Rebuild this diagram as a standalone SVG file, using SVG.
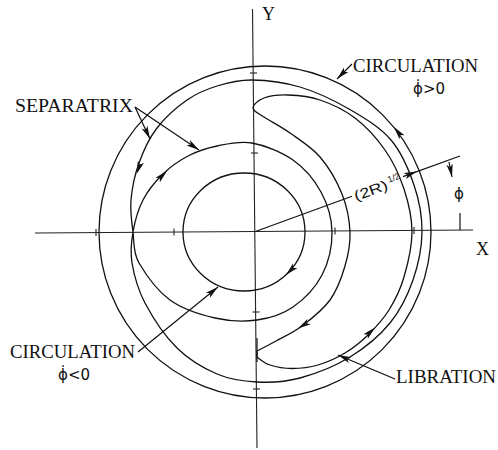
<svg xmlns="http://www.w3.org/2000/svg" width="498" height="450" viewBox="0 0 498 450">
<defs>
<path id="ah" d="M0,0 L-13,-3.2 L-10,0 L-13,3.2 Z"/>
</defs>
<style>
.c{fill:none;stroke:#111;stroke-width:1.3}
.ax{fill:none;stroke:#222;stroke-width:1.1}
.ln{fill:none;stroke:#111;stroke-width:1.2}
.a{fill:#111}
.t{font-family:"Liberation Serif",serif;font-size:18px;fill:#111}
.g{font-family:"DejaVu Sans",sans-serif;font-size:15px;fill:#111}
</style>
<rect width="498" height="450" fill="#fff"/>
<g id="axes" class="ax">
<line x1="252.5" y1="9" x2="257" y2="448"/>
<line x1="35" y1="233" x2="473" y2="230"/>
<line x1="250" y1="73" x2="257" y2="73"/>
<line x1="251" y1="153" x2="258" y2="153"/>
<line x1="252.5" y1="312" x2="259.5" y2="312"/>
<line x1="253" y1="389" x2="260" y2="389"/>
<line x1="96" y1="229" x2="96" y2="236"/>
<line x1="174" y1="228.5" x2="174" y2="235.5"/>
<line x1="335" y1="227.5" x2="335" y2="234.5"/>
<line x1="414" y1="227" x2="414" y2="234"/>
</g>
<g id="outer-circle"><circle class="c" cx="265" cy="232" r="166"/></g>
<g id="inner-circle"><ellipse class="c" cx="244" cy="232" rx="61" ry="59"/></g>
<g id="separatrix"><path class="c" d="M133,232 C131.7,221.5 130,211.5 131,200 C132,188.5 134.7,175 139,163 C143.3,151 149,138.5 157,128 C165,117.5 177,107 187,100 C197,93 206.2,89.3 217,86 C227.8,82.7 238.2,79.8 252,80 C265.8,80.2 283.8,82.2 300,87 C316.2,91.8 333.8,100.2 349,109 C364.2,117.8 380.2,127.3 391,140 C401.8,152.7 408.8,169.7 414,185 C419.2,200.3 422.2,216.2 422,232 C421.8,247.8 418.3,264.8 413,280 C407.7,295.2 400.5,310.2 390,323 C379.5,335.8 365,347.8 350,357 C335,366.2 315.5,373.8 300,378 C284.5,382.2 270.8,382.7 257,382 C243.2,381.3 230.3,379.7 217,374 C203.7,368.3 189,359.8 177,348 C165,336.2 152.5,317.2 145,303 C137.5,288.8 134,274.8 132,263 C130,251.2 131.2,242.5 133,232 C134.8,221.5 138,209.7 143,200 C148,190.3 155.5,181.3 163,174 C170.5,166.7 179,160.7 188,156 C197,151.3 206.3,148.2 217,146 C227.7,143.8 239.3,140.7 252,143 C264.7,145.3 281.5,151.8 293,160 C304.5,168.2 314.5,180 321,192 C327.5,204 331.8,218.2 332,232 C332.2,245.8 328.5,262.5 322,275 C315.5,287.5 303.8,299.5 293,307 C282.2,314.5 270,318.2 257,320 C244,321.8 229.5,321.3 215,318 C200.5,314.7 182.7,309.2 170,300 C157.3,290.8 145.2,273.5 139,263 C132.8,252.5 134.3,242.5 133,232 Z"/></g>
<g id="libration"><path class="c" d="M257,357 C261,360 264.2,363.1 270,365 C275.8,366.9 284,368.5 292,368.5 C300,368.5 309.2,367.6 318,365 C326.8,362.4 336.7,358 345,353 C353.3,348 360.7,342.2 368,335 C375.3,327.8 383,319.7 389,310 C395,300.3 400.2,290 404,277 C407.8,264 412,246.7 412,232 C412,217.3 408.5,202.7 404,189 C399.5,175.3 393.2,161.8 385,150 C376.8,138.2 365.8,126.3 355,118 C344.2,109.7 331.2,103.8 320,100 C308.8,96.2 297.3,95.3 288,95 C278.7,94.7 269.8,95.8 264,98 C258.2,100.2 253,104.8 253,108 C253,111.2 257.8,112.8 264,117 C270.2,121.2 280.7,126.3 290,133 C299.3,139.7 311.3,146.8 320,157 C328.7,167.2 337,181.5 342,194 C347,206.5 349.5,220 350,232 C350.5,244 348.3,254.7 345,266 C341.7,277.3 337.2,290 330,300 C322.8,310 311,319.2 302,326 C293,332.8 283.5,336.8 276,341 C268.5,345.2 263,348 257,351 Z"/>
<line class="ln" x1="257" y1="338" x2="257" y2="362" stroke-width="1.6"/></g>
<g id="flow-arrows" class="a">
<use href="#ah" transform="translate(136.5,174) rotate(110)"/>
<use href="#ah" transform="translate(167,171) rotate(-44)"/>
<use href="#ah" transform="translate(286,275) rotate(135)"/>
<use href="#ah" transform="translate(298,328.5) rotate(148)"/>
<use href="#ah" transform="translate(375,327.5) rotate(-44)"/>
<use href="#ah" transform="translate(394,127) rotate(-128)"/>
</g>
<g id="connectors">
<g class="ln">
<line x1="135" y1="107" x2="150" y2="139"/>
<line x1="135" y1="107" x2="199" y2="150"/>
<line x1="352" y1="64" x2="337" y2="79"/>
<line x1="138" y1="352" x2="218" y2="287"/>
<line x1="395" y1="379" x2="338" y2="355"/>
<line x1="254" y1="232" x2="352" y2="196.3"/>
<line x1="403" y1="176.6" x2="460" y2="156"/>
<line x1="449" y1="162" x2="452" y2="177"/>
<line x1="460" y1="213" x2="460" y2="230"/>
</g>
<g class="a">
<use href="#ah" transform="translate(150,139) rotate(65)"/>
<use href="#ah" transform="translate(199,150) rotate(34)"/>
<use href="#ah" transform="translate(337,79) rotate(135)"/>
<use href="#ah" transform="translate(218,287) rotate(-39)"/>
<use href="#ah" transform="translate(338,355) rotate(-157)"/>
<use href="#ah" transform="translate(417,171.5) rotate(-20)"/>
<use href="#ah" transform="translate(452,177) rotate(79)"/>
</g>
</g>
<g id="labels">
<text class="t" x="15" y="112" textLength="118" lengthAdjust="spacingAndGlyphs">SEPARATRIX</text>
<text class="t" x="353" y="72" textLength="125" lengthAdjust="spacingAndGlyphs">CIRCULATION</text>
<text class="g" x="413" y="94">ϕ̇&gt;0</text>
<text class="t" x="10" y="358" textLength="125" lengthAdjust="spacingAndGlyphs">CIRCULATION</text>
<text class="g" x="58" y="380">ϕ̇&lt;0</text>
<text class="t" x="396" y="383" textLength="100" lengthAdjust="spacingAndGlyphs">LIBRATION</text>
<text class="t" x="476" y="255" font-size="17">X</text>
<text class="t" x="262" y="20" font-size="17">Y</text>
<text class="g" x="454" y="199" font-size="17">ϕ</text>
<g transform="translate(356,201) rotate(-20)">
<text font-family="Liberation Sans, sans-serif" font-size="14" fill="#111" x="0" y="0" textLength="35" lengthAdjust="spacingAndGlyphs">(2R)</text>
<text font-family="Liberation Sans, sans-serif" font-size="9" fill="#111" x="37" y="-6">1/2</text>
</g>
</g>
</svg>
